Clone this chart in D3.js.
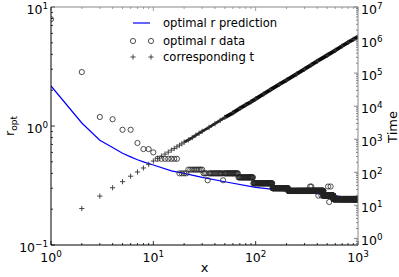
<!DOCTYPE html>
<html>
<head>
<meta charset="utf-8">
<script src="https://cdn.jsdelivr.net/npm/d3@7"></script>
<style>
  body { margin: 0; background: #fff; }
  svg { display: block; font-family: "DejaVu Sans", sans-serif; }
</style>
</head>
<body>
<div id="container"></div>
<script>
// predicted optimal r (left axis)
const predX = [1, 2, 3, 4, 5, 6, 7, 8, 10, 15, 20, 30, 50, 100, 200, 400, 1000];
const predR = [2.17, 1.06, 0.76, 0.66, 0.59, 0.55, 0.52, 0.50, 0.47, 0.42, 0.40, 0.37, 0.34, 0.305, 0.285, 0.27, 0.245];

// measured optimal r: single points, then runs of equal value over integer x
const rPointX = [1, 2, 3, 4, 5, 6, 7, 8, 9, 10, 34, 48, 340, 350, 410, 440, 510, 523, 540];
const rPointR = [7.9, 2.84, 1.19, 1.14, 0.93, 0.93, 0.72, 0.64, 0.64, 0.60, 0.35, 0.35, 0.31, 0.31, 0.26, 0.26, 0.31, 0.23, 0.31];
const rRunStart = [11, 18, 22, 31, 68, 95, 146, 208, 460, 576];
const rRunEnd = [17, 21, 30, 67, 94, 145, 207, 459, 575, 1000];
const rRunValue = [0.53, 0.40, 0.43, 0.40, 0.37, 0.33, 0.30, 0.285, 0.26, 0.243];

// corresponding t (right axis)
const tX = [2, 3, 4, 5, 6, 7, 8, 9, 10, 11, 12, 13, 14, 15, 16, 17, 18, 19, 20, 22, 24, 26, 28, 30,
  35, 40, 45, 50, 60, 70, 80, 90, 100, 120, 140, 170, 200, 250, 300, 350, 400, 500, 600, 700, 800, 900, 1000];
const tVal = [8, 19, 34, 52, 76, 102, 135, 174, 219, 263, 309, 355, 407, 468, 525, 589, 661, 724, 813, 955, 1120, 1318, 1514, 1738,
  2290, 2950, 3715, 4570, 6310, 8510, 10960, 13490, 16600, 23400, 31600, 45700, 61700, 93300, 132000, 178000, 229000, 347000, 490000, 661000, 851000, 1047000, 1260000];

const xTicks = [1, 10, 100, 1000];
const xTickExp = ["0", "1", "2", "3"];
const leftTicks = [0.1, 1, 10];
const leftTickExp = ["\u22121", "0", "1"];
const rightTicks = [1, 10, 100, 1e3, 1e4, 1e5, 1e6, 1e7];
const rightTickExp = ["0", "1", "2", "3", "4", "5", "6", "7"];

const legendLabels = ["optimal r prediction", "optimal r data", "corresponding t"];

const width = 399, height = 277;
const pLeft = 51, pRight = 358, pTop = 7, pBottom = 245;

const x = d3.scaleLog().domain([1, 1000]).range([pLeft, pRight]);
const yL = d3.scaleLog().domain([0.1, 10]).range([pBottom, pTop]);
const yR = d3.scaleLog().domain([Math.pow(10, -0.2), 1e7]).range([pBottom, pTop]);

const svg = d3.create("svg").attr("width", width).attr("height", height);
svg.append("rect").attr("width", width).attr("height", height).attr("fill", "#fff");

svg.append("defs").append("clipPath").attr("id", "plot-clip")
  .append("rect").attr("x", pLeft).attr("y", pTop).attr("width", pRight - pLeft).attr("height", pBottom - pTop);

const plot = svg.append("g").attr("clip-path", "url(#plot-clip)");

// prediction line
plot.append("path")
  .attr("d", d3.line().x((d, i) => x(predX[i])).y(d => yL(d))(predR))
  .attr("fill", "none").attr("stroke", "#0000ff").attr("stroke-width", 1.2);

// r data circles
const rData = rPointX.map((v, i) => [v, rPointR[i]]);
rRunStart.forEach((s, k) => {
  for (let v = s; v <= rRunEnd[k]; v++) {
    if (!rPointX.includes(v)) rData.push([v, rRunValue[k]]);
  }
});
plot.append("g").selectAll("circle").data(rData).join("circle")
  .attr("cx", d => x(d[0])).attr("cy", d => yL(d[1])).attr("r", 2.6)
  .attr("fill", "none").attr("stroke", "#222").attr("stroke-width", 0.8);

// t markers: where they pile up they merge into a band
const tData = tX.map((v, i) => [v, tVal[i]]);
plot.append("path")
  .attr("d", d3.line().x(d => x(d[0])).y(d => yR(d[1]))(tData.filter(d => d[0] >= 20 && d[0] < 60)))
  .attr("fill", "none").attr("stroke", "#222").attr("stroke-width", 2.6);
plot.append("path")
  .attr("d", d3.line().x(d => x(d[0])).y(d => yR(d[1]))(tData.filter(d => d[0] >= 50)))
  .attr("fill", "none").attr("stroke", "#0a0a0a").attr("stroke-width", 3.8);
const plus = "M-2.6,0H2.6M0,-2.6V2.6";
plot.append("g").selectAll("path").data(tData).join("path")
  .attr("transform", d => `translate(${x(d[0])},${yR(d[1])})`)
  .attr("d", plus).attr("stroke", "#333").attr("stroke-width", 0.9);

// ticks
const axes = svg.append("g");
function minors(lo, hi) {
  const out = [];
  for (let e = lo; e < hi; e++) for (let k = 2; k <= 9; k++) out.push(k * Math.pow(10, e));
  return out;
}
const xMinor = minors(0, 3);
axes.append("g").selectAll("line").data(xTicks.concat(xMinor)).join("line")
  .attr("x1", d => x(d)).attr("x2", d => x(d))
  .attr("y1", pBottom).attr("y2", d => pBottom - (xTicks.includes(d) ? 4 : 2))
  .attr("stroke", "#000").attr("stroke-width", 0.8);
axes.append("g").selectAll("line").data(xTicks.concat(xMinor)).join("line")
  .attr("x1", d => x(d)).attr("x2", d => x(d))
  .attr("y1", pTop).attr("y2", d => pTop + (xTicks.includes(d) ? 4 : 2))
  .attr("stroke", "#888").attr("stroke-width", 0.8);
const lMinor = minors(-1, 1);
axes.append("g").selectAll("line").data(leftTicks.concat(lMinor)).join("line")
  .attr("x1", pLeft).attr("x2", d => pLeft + (leftTicks.includes(d) ? 4 : 2))
  .attr("y1", d => yL(d)).attr("y2", d => yL(d))
  .attr("stroke", "#000").attr("stroke-width", 0.8);
const rMinor = minors(-1, 7).filter(d => d >= Math.pow(10, -0.2));
axes.append("g").selectAll("line").data(rightTicks.concat(rMinor)).join("line")
  .attr("x1", pRight).attr("x2", d => pRight - (rightTicks.includes(d) ? 4 : 2))
  .attr("y1", d => yR(d)).attr("y2", d => yR(d))
  .attr("stroke", "#666").attr("stroke-width", 0.8);

// spines
axes.append("line").attr("x1", pLeft).attr("x2", pRight).attr("y1", pTop).attr("y2", pTop).attr("stroke", "#888");
axes.append("line").attr("x1", pRight).attr("x2", pRight).attr("y1", pTop).attr("y2", pBottom).attr("stroke", "#888");
axes.append("line").attr("x1", pLeft).attr("x2", pRight).attr("y1", pBottom).attr("y2", pBottom).attr("stroke", "#000");
axes.append("line").attr("x1", pLeft).attr("x2", pLeft).attr("y1", pTop).attr("y2", pBottom).attr("stroke", "#000");

// tick labels
function powLabel(g, px, py, exp, anchor) {
  const t = g.append("text").attr("x", px).attr("y", py).attr("text-anchor", anchor)
    .attr("font-size", 12.5).attr("fill", "#000");
  t.append("tspan").text("10");
  t.append("tspan").attr("dy", -5).attr("font-size", 8.8).text(exp);
}
const labels = svg.append("g");
xTicks.forEach((d, i) => powLabel(labels, x(d), 262, xTickExp[i], "middle"));
leftTicks.forEach((d, i) => powLabel(labels, pLeft - 3, yL(d) + 6.6, leftTickExp[i], "end"));
rightTicks.forEach((d, i) => powLabel(labels, pRight + 3, yR(d) + 6.6, rightTickExp[i], "start"));

// axis titles
labels.append("text").attr("x", (pLeft + pRight) / 2).attr("y", 272).attr("text-anchor", "middle")
  .attr("font-size", 13).text("x");
labels.append("text").attr("transform", "translate(397,127) rotate(-90)").attr("text-anchor", "middle")
  .attr("font-size", 13).text("Time");
const ry = labels.append("text").attr("transform", "translate(14,126) rotate(-90)").attr("text-anchor", "middle")
  .attr("font-size", 13);
ry.append("tspan").text("r");
ry.append("tspan").attr("dy", 3).attr("font-size", 9).text("opt");

// legend
const leg = svg.append("g");
const legY = [23, 41, 57];
leg.append("line").attr("x1", 133).attr("x2", 150).attr("y1", legY[0]).attr("y2", legY[0])
  .attr("stroke", "#0000ff").attr("stroke-width", 1.2);
[133, 151].forEach(px => {
  leg.append("circle").attr("cx", px).attr("cy", legY[1]).attr("r", 2.6)
    .attr("fill", "none").attr("stroke", "#222").attr("stroke-width", 0.8);
  leg.append("path").attr("transform", `translate(${px},${legY[2]})`).attr("d", plus)
    .attr("stroke", "#333").attr("stroke-width", 0.9);
});
legendLabels.forEach((s, i) => {
  leg.append("text").attr("x", 163).attr("y", legY[i] + 4).attr("font-size", 11.6).text(s);
});

document.getElementById("container").append(svg.node());
</script>
</body>
</html>
